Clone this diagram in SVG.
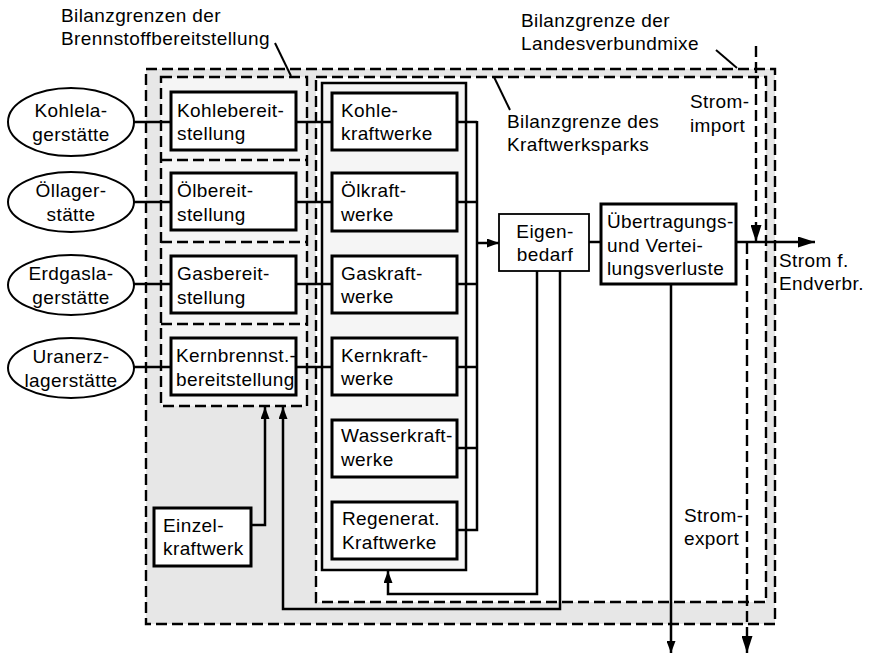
<svg xmlns="http://www.w3.org/2000/svg" width="869" height="655" viewBox="0 0 869 655">
<defs>
<style>
text{font-family:"Liberation Sans",Arial,sans-serif;font-size:19px;letter-spacing:0.4px;fill:#000}
.mid{text-anchor:middle}
.dash{fill:none;stroke:#000;stroke-width:2.4;stroke-dasharray:11 5}
.box{fill:#fff;stroke:#000;stroke-width:3}
.thin{fill:#fff;stroke:#000;stroke-width:1.8}
.ell{fill:#fff;stroke:#000;stroke-width:2}
.ln{fill:none;stroke:#000;stroke-width:2.5}
.lead{fill:none;stroke:#000;stroke-width:2}
</style>
<marker id="arr" markerUnits="userSpaceOnUse" viewBox="0 0 12 9" refX="12" refY="4.5" markerWidth="12" markerHeight="9" orient="auto"><path d="M0,0 L12,4.5 L0,9 z" fill="#000"/></marker>
<marker id="arrBig" markerUnits="userSpaceOnUse" viewBox="0 0 17 11" refX="17" refY="5.5" markerWidth="17" markerHeight="11" orient="auto"><path d="M0,0 L17,5.5 L0,11 z" fill="#000"/></marker>
</defs>
<rect width="869" height="655" fill="#fff"/>

<g id="boundary-landesverbund">
<rect x="146" y="69" width="629" height="555" fill="#e7e7e7"/>
<rect x="146" y="69" width="629" height="555" class="dash"/>
</g>
<g id="boundary-kraftwerkspark">
<rect x="316" y="77" width="450" height="525" fill="#fff"/>
<rect x="316" y="77" width="450" height="525" class="dash"/>
</g>
<g id="boundary-brennstoff">
<rect x="161" y="77" width="146" height="329" fill="#f5f5f5"/>
<rect x="161" y="77" width="146" height="329" class="dash"/>
<line x1="161" y1="160" x2="307" y2="160" class="dash"/>
<line x1="161" y1="242" x2="307" y2="242" class="dash"/>
<line x1="161" y1="324" x2="307" y2="324" class="dash"/>
</g>
<g id="kraftwerke-container">
<rect x="322" y="83" width="144" height="487" fill="#f5f5f5" stroke="#000" stroke-width="2.5"/>
</g>

<g id="connectors">
<line x1="134" y1="122" x2="171" y2="122" class="ln"/>
<line x1="134" y1="202" x2="171" y2="202" class="ln"/>
<line x1="134" y1="284" x2="171" y2="284" class="ln"/>
<line x1="134" y1="367" x2="171" y2="367" class="ln"/>
<line x1="296" y1="122" x2="332" y2="122" class="ln"/>
<line x1="296" y1="202" x2="332" y2="202" class="ln"/>
<line x1="296" y1="284" x2="332" y2="284" class="ln"/>
<line x1="296" y1="367" x2="332" y2="367" class="ln"/>
<line x1="457" y1="122" x2="477" y2="122" class="ln"/>
<line x1="457" y1="202" x2="477" y2="202" class="ln"/>
<line x1="457" y1="284" x2="477" y2="284" class="ln"/>
<line x1="457" y1="367" x2="477" y2="367" class="ln"/>
<line x1="457" y1="448" x2="477" y2="448" class="ln"/>
<polyline points="457,530 477,530 477,121" class="ln"/>
<line x1="477" y1="243" x2="499" y2="243" class="ln" marker-end="url(#arr)"/>
<line x1="589" y1="242" x2="601" y2="242" class="ln"/>
<line x1="736" y1="242" x2="815" y2="242" class="ln" marker-end="url(#arrBig)"/>
<line x1="671" y1="284" x2="671" y2="653" class="ln" marker-end="url(#arr)"/>
<polyline points="537,271 537,594 388,594 388,571" class="ln" marker-end="url(#arr)"/>
<polyline points="560,271 560,609 283,609 283,407" class="ln" marker-end="url(#arr)"/>
<polyline points="251,525 265,525 265,407" class="ln" marker-end="url(#arr)"/>
<line x1="756" y1="46" x2="756" y2="242" class="dash" marker-end="url(#arrBig)"/>
<line x1="747" y1="243" x2="747" y2="653" class="dash" marker-end="url(#arrBig)"/>
<line x1="275" y1="43" x2="291" y2="76" class="lead"/>
<line x1="494" y1="77" x2="510" y2="110" class="lead"/>
<line x1="716" y1="50" x2="737" y2="68" class="lead"/>
</g>

<g id="kohlelagerstaette"><ellipse cx="71" cy="122" rx="63" ry="34" class="ell"/><text x="71" y="117" class="mid">Kohlela-</text><text x="71" y="141" class="mid">gerstätte</text></g>
<g id="oellagerstaette"><ellipse cx="71" cy="202" rx="63" ry="30" class="ell"/><text x="71" y="197" class="mid">Öllager-</text><text x="71" y="220.5" class="mid">stätte</text></g>
<g id="erdgaslagerstaette"><ellipse cx="71" cy="285" rx="63" ry="30" class="ell"/><text x="71" y="280" class="mid">Erdgasla-</text><text x="71" y="303.5" class="mid">gerstätte</text></g>
<g id="uranerzlagerstaette"><ellipse cx="71" cy="368" rx="63" ry="30" class="ell"/><text x="71" y="363" class="mid">Uranerz-</text><text x="71" y="386.5" class="mid">lagerstätte</text></g>

<g id="kohlebereitstellung"><rect x="171" y="92" width="125" height="58" class="box"/><text x="177" y="116.5">Kohlebereit-</text><text x="177" y="140">stellung</text></g>
<g id="oelbereitstellung"><rect x="171" y="173" width="125" height="57" class="box"/><text x="177" y="197">Ölbereit-</text><text x="177" y="220.5">stellung</text></g>
<g id="gasbereitstellung"><rect x="171" y="256" width="125" height="57" class="box"/><text x="177" y="280">Gasbereit-</text><text x="177" y="303.5">stellung</text></g>
<g id="kernbrennstoffbereitstellung"><rect x="171" y="338" width="125" height="57" class="box"/><text x="176" y="362">Kernbrennst.-</text><text x="176" y="385.5">bereitstellung</text></g>

<g id="kohlekraftwerke"><rect x="332" y="93" width="125" height="57" class="box"/><text x="341" y="116.5">Kohle-</text><text x="341" y="140">kraftwerke</text></g>
<g id="oelkraftwerke"><rect x="332" y="173" width="125" height="58" class="box"/><text x="341" y="197">Ölkraft-</text><text x="341" y="220.5">werke</text></g>
<g id="gaskraftwerke"><rect x="332" y="256" width="125" height="57" class="box"/><text x="341" y="279.5">Gaskraft-</text><text x="341" y="303">werke</text></g>
<g id="kernkraftwerke"><rect x="332" y="338" width="125" height="57" class="box"/><text x="341" y="361.5">Kernkraft-</text><text x="341" y="385">werke</text></g>
<g id="wasserkraftwerke"><rect x="332" y="420" width="125" height="57" class="box"/><text x="341" y="442">Wasserkraft-</text><text x="341" y="465.5">werke</text></g>
<g id="regenerat-kraftwerke"><rect x="332" y="502" width="125" height="57" class="box"/><text x="342" y="525">Regenerat.</text><text x="342" y="548.5">Kraftwerke</text></g>

<g id="einzelkraftwerk"><rect x="154" y="508" width="97" height="58" class="box"/><text x="163" y="532">Einzel-</text><text x="163" y="555">kraftwerk</text></g>

<g id="eigenbedarf"><rect x="499" y="214" width="90" height="57" class="thin"/><text x="545" y="238" class="mid">Eigen-</text><text x="545" y="261" class="mid">bedarf</text></g>
<g id="uebertragungsverluste"><rect x="601" y="204" width="135" height="80" class="box"/><text x="607" y="228">Übertragungs-</text><text x="607" y="251.5">und Vertei-</text><text x="607" y="275">lungsverluste</text></g>

<g id="labels">
<text x="61" y="22">Bilanzgrenzen der</text>
<text x="61" y="45">Brennstoffbereitstellung</text>
<text x="521" y="27">Bilanzgrenze der</text>
<text x="521" y="50">Landesverbundmixe</text>
<text x="507" y="128">Bilanzgrenze des</text>
<text x="507" y="151">Kraftwerksparks</text>
<text x="690" y="108">Strom-</text>
<text x="690" y="131.5">import</text>
<text x="779" y="267">Strom f.</text>
<text x="779" y="290">Endverbr.</text>
<text x="684" y="522">Strom-</text>
<text x="684" y="545">export</text>
</g>
</svg>
